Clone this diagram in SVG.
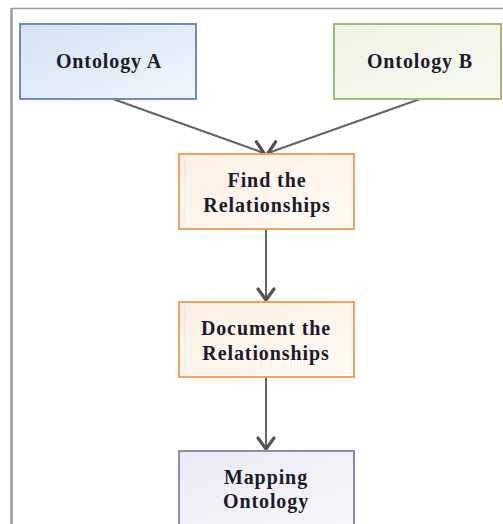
<svg xmlns="http://www.w3.org/2000/svg" width="503" height="524" viewBox="0 0 503 524">
  <style>
    .lbl { font-family: "Liberation Serif", "Times New Roman", serif; font-weight: bold; font-size: 20px; letter-spacing: 0.9px; fill: #1a1a2a; text-anchor: middle; }
    .box { stroke-width: 2; }
    .conn { stroke: #656565; stroke-width: 2; fill: none; marker-end: url(#chev); }
  </style>
  <defs>
    <linearGradient id="gBlue" x1="0" y1="0" x2="1" y2="1">
      <stop offset="0" stop-color="#d3e2f3"/>
      <stop offset="1" stop-color="#f1f6fc"/>
    </linearGradient>
    <linearGradient id="gGreen" x1="0" y1="0" x2="1" y2="1">
      <stop offset="0" stop-color="#eef3e2"/>
      <stop offset="1" stop-color="#f8faf3"/>
    </linearGradient>
    <linearGradient id="gOrange" x1="0" y1="0" x2="1" y2="1">
      <stop offset="0" stop-color="#fdf0e3"/>
      <stop offset="1" stop-color="#fffaf5"/>
    </linearGradient>
    <linearGradient id="gPurple" x1="0" y1="0" x2="1" y2="1">
      <stop offset="0" stop-color="#ecebf5"/>
      <stop offset="1" stop-color="#f7f6fb"/>
    </linearGradient>
    <marker id="chev" markerUnits="userSpaceOnUse" markerWidth="28" markerHeight="28" viewBox="-14 -14 28 28" refX="0" refY="0" orient="auto">
      <path d="M-11,-8 L0,0 L-11,8" fill="none" stroke="#535353" stroke-width="3.2" stroke-linecap="round" stroke-linejoin="miter"/>
    </marker>
  </defs>

  <rect x="0" y="0" width="503" height="524" fill="#ffffff"/>
  <!-- outer frame (open on the right and bottom) -->
  <g id="frame" stroke="#9a9a9a" fill="none">
    <line x1="11" y1="8.5" x2="503" y2="8.5" stroke-width="1.5"/>
    <line x1="11.5" y1="8" x2="11.5" y2="524" stroke-width="2.5"/>
  </g>

  <g id="connectors">
    <line class="conn" x1="113" y1="99" x2="264" y2="153"/>
    <line class="conn" x1="420" y1="99" x2="268" y2="153"/>
    <line class="conn" x1="266" y1="229" x2="266" y2="300"/>
    <line class="conn" x1="266" y1="377" x2="266" y2="449"/>
  </g>

  <g id="ontologyA">
    <rect class="box" x="20" y="24" width="176" height="75" fill="url(#gBlue)" stroke="#6f8eb7"/>
    <text class="lbl" x="109" y="68">Ontology A</text>
  </g>

  <g id="ontologyB">
    <rect class="box" x="334" y="24" width="167" height="75" fill="url(#gGreen)" stroke="#9fbd72"/>
    <text class="lbl" x="420" y="68">Ontology B</text>
  </g>

  <g id="findRelationships">
    <rect class="box" x="179" y="154" width="175" height="75" fill="url(#gOrange)" stroke="#f3a060"/>
    <text class="lbl" x="267" y="187">Find the</text>
    <text class="lbl" x="267" y="212">Relationships</text>
  </g>

  <g id="documentRelationships">
    <rect class="box" x="179" y="302" width="175" height="75" fill="url(#gOrange)" stroke="#f3a060"/>
    <text class="lbl" x="266" y="335">Document the</text>
    <text class="lbl" x="266" y="360">Relationships</text>
  </g>

  <g id="mappingOntology">
    <rect class="box" x="179" y="451" width="175" height="80" fill="url(#gPurple)" stroke="#9586ba"/>
    <text class="lbl" x="266" y="484">Mapping</text>
    <text class="lbl" x="266" y="508">Ontology</text>
  </g>
</svg>
